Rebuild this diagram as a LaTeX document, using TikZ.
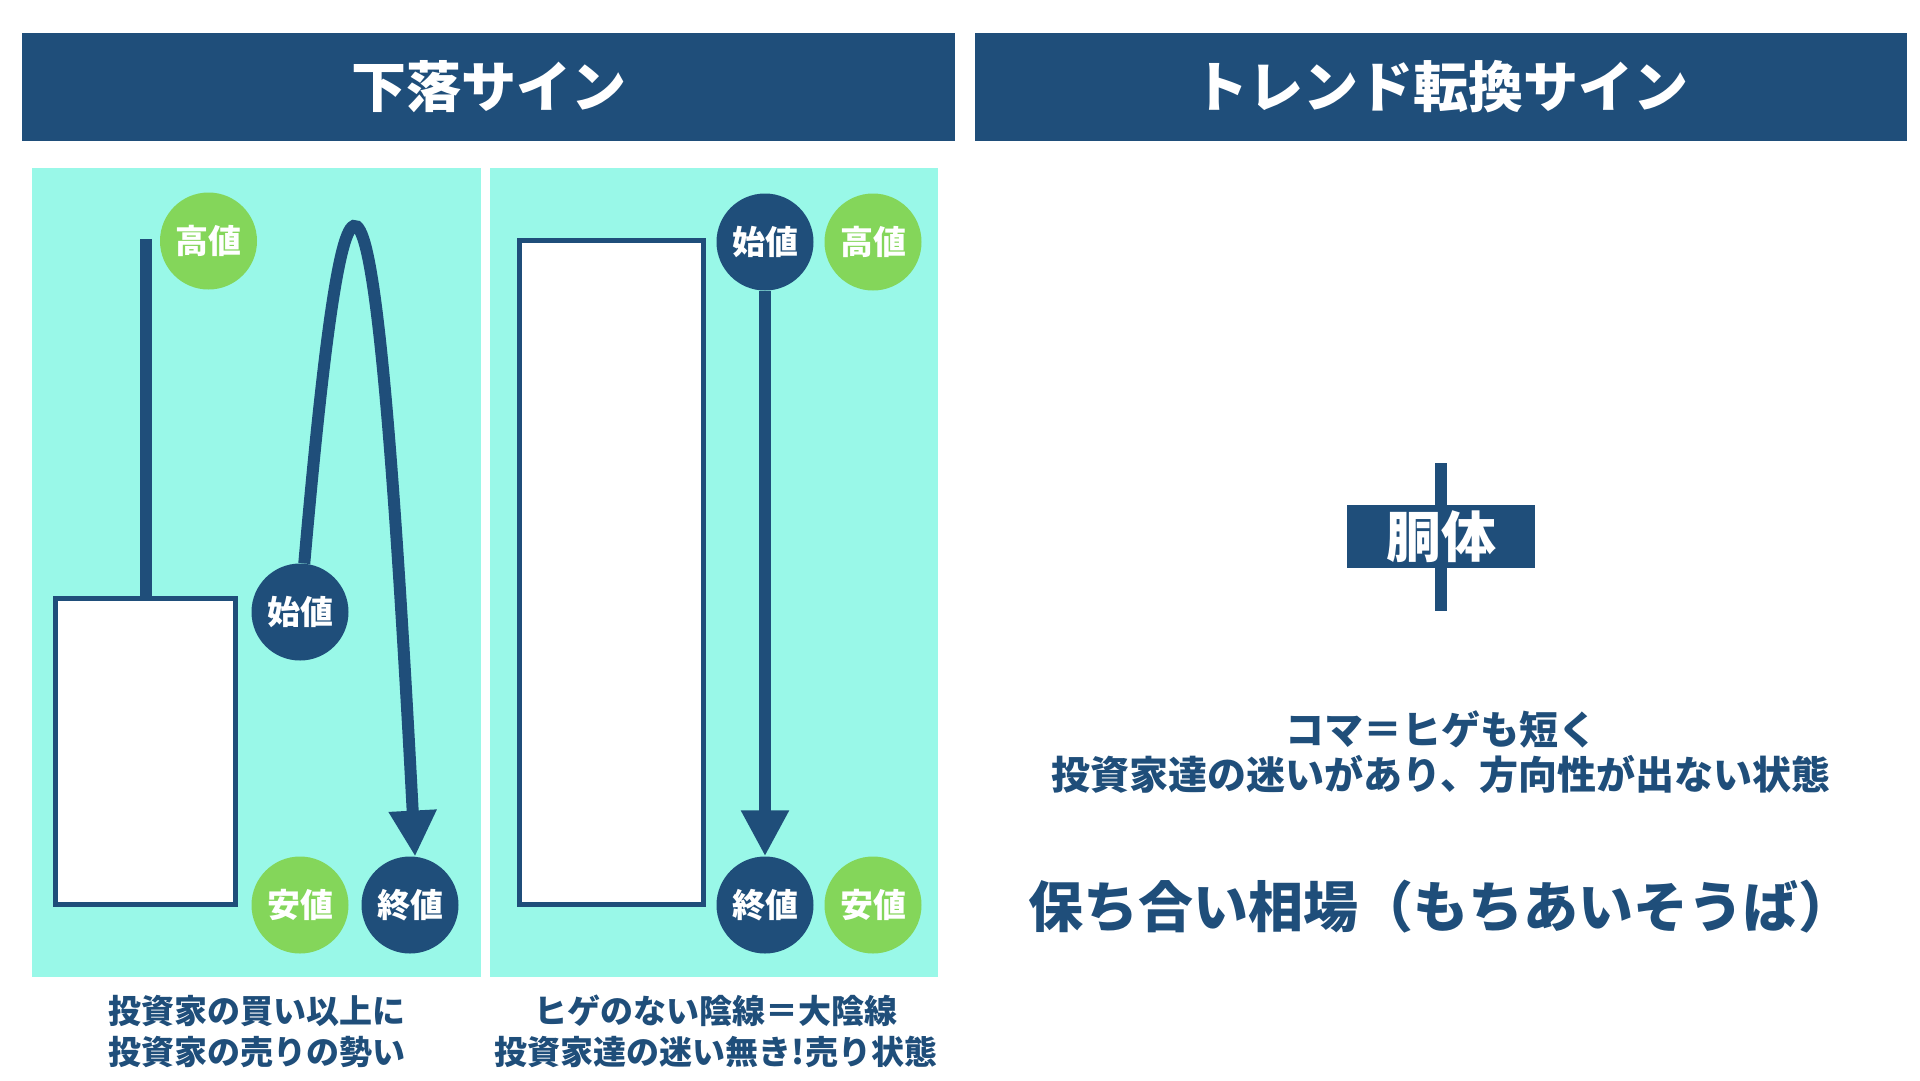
\documentclass[tikz,border=0pt]{standalone}
\usepackage{fontspec}
\newfontfamily\jp{Noto Sans CJK JP}
\usetikzlibrary{arrows.meta}
\usetikzlibrary{positioning}
\definecolor{navy}{HTML}{1F4E7A}
\definecolor{mint}{HTML}{99F8E8}
\definecolor{leaf}{HTML}{84D65A}
\newcommand{\jpfs}[2]{\jp\bfseries\fontsize{#1}{#2}\selectfont}

\begin{document}
\begin{tikzpicture}[x=1pt,y=-1pt,
	head/.style={rectangle,fill=navy,text=white,minimum width=933pt,minimum height=108pt,inner sep=0pt,font=\jpfs{55}{60}},
	panel/.style={rectangle,fill=mint,minimum width=449pt,minimum height=809pt},
	body/.style={rectangle,draw=navy,line width=5pt,fill=white},
	stick/.style={draw=navy,line width=12pt},
	move/.style={draw=navy,line width=12pt,-{Triangle[length=46pt,width=45pt]}},
	note/.style={text=navy,align=center,inner sep=0pt,font=\jpfs{33}{41}}]
	\useasboundingbox (0,0) rectangle (1920,1080);

	\node[head] (fall) at (488.5,87) {下落サイン};
	\node[head,minimum width=932pt] (turn) at (1441,87) {トレンド転換サイン};
	\node[panel] (leftpanel) at (256.5,572.5) {};
	\node[panel,minimum width=448pt] (rightpanel) at (714,572.5) {};

	\node[body,minimum width=180pt,minimum height=306pt] (body1) at (145.5,751.5) {};
	\node[body,minimum width=184pt,minimum height=664pt] (body2) at (611.5,572.5) {};
	\coordinate (top1) at (145.5,239);
	\draw[stick] (top1) -- (body1);

	\begin{scope}[every node/.style={circle,minimum size=97pt,inner sep=0pt,text=white,font=\jpfs{33}{33}}]
		\node[fill=leaf] (high1) at (208.5,241) {高値};
		\node[fill=navy] (open1) at (300,612) {始値};
		\node[fill=leaf] (low1) at (300,905) {安値};
		\node[fill=navy] (close1) at (410,905) {終値};
		\node[fill=navy] (open2) at (765,242) {始値};
		\node[fill=leaf] (high2) at (873,242) {高値};
		\node[fill=navy] (close2) at (765,905) {終値};
		\node[fill=leaf] (low2) at (873,905) {安値};
	\end{scope}

	\draw[move] (open1) .. controls (347,78) and (374,78) .. (close1.84);
	\draw[move] (open2) -- (close2);

	\node[note] (cap1) at (256.5,1031.5) {投資家の買い以上に\\投資家の売りの勢い};
	\node[note] (cap2) at (716,1031.5) {ヒゲのない陰線＝大陰線\\投資家達の迷い無き!売り状態};

	\coordinate (wicktop) at (1441,463);
	\coordinate (wickbot) at (1441,611);
	\draw[stick] (wicktop) -- (wickbot);
	\node[rectangle,fill=navy,text=white,minimum width=188pt,minimum height=63pt,inner sep=0pt,font=\jpfs{55}{55}] (trunk) at (1441,536.5) {胴体};

	\node[note,font=\jpfs{39}{45}] (koma) at (1441,752.5) {コマ＝ヒゲも短く\\投資家達の迷いがあり、方向性が出ない状態};
	\node[note,font=\jpfs{55}{55}] (range) at (1441,907) {保ち合い相場（もちあいそうば）};
\end{tikzpicture}
\end{document}
